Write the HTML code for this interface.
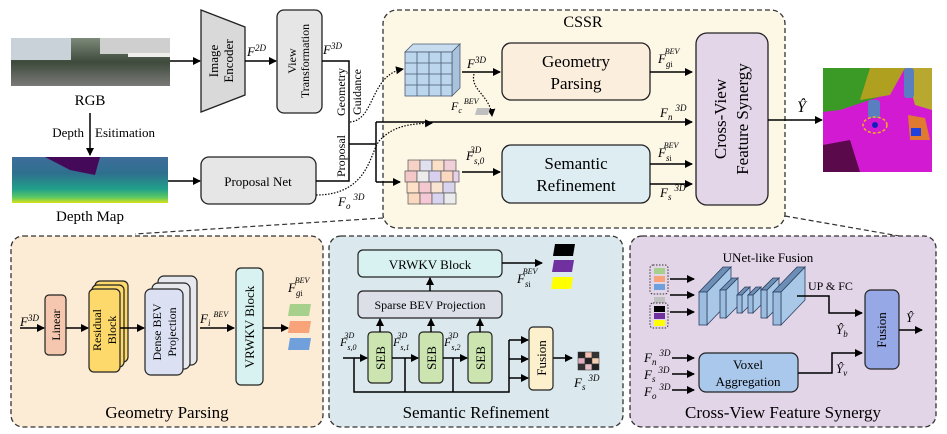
<!DOCTYPE html>
<html><head><meta charset="utf-8"><style>
html,body{margin:0;padding:0;background:#fff;}
svg{display:block;font-family:"Liberation Serif",serif;}
</style></head><body>
<svg width="947" height="434" viewBox="0 0 947 434" xmlns="http://www.w3.org/2000/svg">
<defs>
<marker id="a" markerWidth="8" markerHeight="8" refX="7" refY="4" orient="auto" markerUnits="userSpaceOnUse"><path d="M0,0 L8,4 L0,8 z" fill="#000"/></marker>
<linearGradient id="dm" x1="0" y1="0" x2="0" y2="1"><stop offset="0" stop-color="#3f6e9a"/><stop offset="0.35" stop-color="#2f6f8e"/><stop offset="0.7" stop-color="#21a08a"/><stop offset="0.88" stop-color="#5ec962"/><stop offset="1" stop-color="#d8e219"/></linearGradient>
<linearGradient id="rg" x1="0" y1="0" x2="0" y2="1"><stop offset="0" stop-color="#7d8a7a"/><stop offset="0.5" stop-color="#3e4a3c"/><stop offset="1" stop-color="#7a7a78"/></linearGradient>
</defs>

<rect x="383" y="10" width="402" height="218" rx="14" fill="#fdf7e6" stroke="#333" stroke-width="1.3" stroke-dasharray="5,3"/>
<text x="583" y="27" font-size="16" text-anchor="middle">CSSR</text>

<rect x="11" y="38" width="159" height="48" fill="url(#rg)"/>
<rect x="11" y="38" width="60" height="22" fill="#c9d2d8"/>
<rect x="100" y="38" width="70" height="16" fill="#cfcfcf"/>
<rect x="128" y="53" width="42" height="4" fill="#f0eeea"/>
<text x="90" y="105" font-size="15" text-anchor="middle">RGB</text>
<line x1="170" y1="61" x2="200" y2="61" stroke="#000" stroke-width="1.5" marker-end="url(#a)"/>

<line x1="90" y1="113" x2="90" y2="155" stroke="#000" stroke-width="1.5" marker-end="url(#a)"/>
<text x="84" y="137" font-size="13" text-anchor="end">Depth</text>
<text x="95" y="137" font-size="13">Esitimation</text>
<rect x="12" y="157" width="156" height="46" fill="url(#dm)"/>
<path d="M45,157 L100,157 L95,175 L70,170 Z" fill="#440a59"/>
<text x="90" y="221" font-size="15" text-anchor="middle">Depth Map</text>
<line x1="168" y1="181" x2="200" y2="181" stroke="#000" stroke-width="1.5" marker-end="url(#a)"/>

<path d="M201,10 L245,27 L245,95 L201,112 Z" fill="#d9d9d9" stroke="#222" stroke-width="1.3"/>
<text transform="translate(218,61) rotate(-90)" font-size="13" text-anchor="middle">Image</text>
<text transform="translate(233,61) rotate(-90)" font-size="13" text-anchor="middle">Encoder</text>
<text x="247" y="56" font-size="13" font-style="italic">F<tspan dy="-5" font-size="9">2D</tspan></text>
<line x1="245" y1="61" x2="276" y2="61" stroke="#000" stroke-width="1.5" marker-end="url(#a)"/>
<rect x="277" y="10" width="45" height="103" rx="7" fill="#e6e6e6" stroke="#222" stroke-width="1.3"/>
<text transform="translate(296,61) rotate(-90)" font-size="12" text-anchor="middle">View</text>
<text transform="translate(309,61) rotate(-90)" font-size="12" text-anchor="middle">Transformation</text>
<text x="323" y="54" font-size="13" font-style="italic">F<tspan dy="-5" font-size="9">3D</tspan></text>

<rect x="201" y="157" width="115" height="47" rx="8" fill="#e6e6e6" stroke="#222" stroke-width="1.3"/>
<text x="258" y="186" font-size="13" text-anchor="middle">Proposal Net</text>

<polyline points="322,61 349,61 349,181 316,181" fill="none" stroke="#000" stroke-width="1.5"/>
<line x1="349" y1="144" x2="376" y2="144" stroke="#000" stroke-width="1.5"/>
<line x1="376" y1="122" x2="376" y2="182" stroke="#000" stroke-width="1.5"/>
<line x1="376" y1="122" x2="692" y2="122" stroke="#000" stroke-width="1.5" marker-end="url(#a)"/>
<line x1="376" y1="182" x2="400" y2="182" stroke="#000" stroke-width="1.5" marker-end="url(#a)"/>
<text transform="translate(345,92) rotate(-90)" font-size="12" text-anchor="middle">Geometry</text>
<text transform="translate(361,92) rotate(-90)" font-size="12" text-anchor="middle">Guidance</text>
<text transform="translate(345,156) rotate(-90)" font-size="12" text-anchor="middle">Proposal</text>
<path d="M350,122 C375,120 370,75 403,69" fill="none" stroke="#000" stroke-width="1.2" stroke-dasharray="1.5,1.5" marker-end="url(#a)"/>
<path d="M316,195 C370,195 370,150 380,140 C395,125 410,124 432,123" fill="none" stroke="#000" stroke-width="1.2" stroke-dasharray="1.5,1.5" marker-end="url(#a)"/>
<text x="338" y="206" font-size="13" font-style="italic">F<tspan dy="3" font-size="9">o</tspan><tspan dy="-9" dx="3" font-size="9">3D</tspan></text>

<g stroke="#4a5a70" stroke-width="0.8">
<path d="M405,52 L413,44 L460,44 L452,52 Z" fill="#c7dcee"/>
<path d="M452,52 L460,44 L460,88 L452,96 Z" fill="#a9c3dc"/>
<rect x="405" y="52" width="47" height="44" fill="#bcd6ee"/>
<path d="M417,52V96M429,52V96M441,52V96M405,63H452M405,74H452M405,85H452" fill="none"/>
</g>
<text x="467" y="68" font-size="13" font-style="italic">F<tspan dy="-5" font-size="9">3D</tspan></text>
<line x1="462" y1="72" x2="500" y2="72" stroke="#000" stroke-width="1.5" marker-end="url(#a)"/>
<path d="M474,74 C470,90 490,95 492,116" fill="none" stroke="#000" stroke-width="1.2" stroke-dasharray="1.5,1.5" marker-end="url(#a)"/>
<text x="451" y="110" font-size="12" font-style="italic">F<tspan dy="3" font-size="8">c</tspan><tspan dy="-9" dx="2" font-size="8">BEV</tspan></text>
<path d="M477,108 L490,108 L488,115 L475,115 Z" fill="#bfbfbf"/>

<g stroke="#555" stroke-width="0.7">
<rect x="408" y="160" width="12" height="11" fill="#f6d2c6"/><rect x="420" y="160" width="12" height="11" fill="#e0e0f0"/><rect x="432" y="160" width="12" height="11" fill="#fbe0c8"/><rect x="444" y="160" width="12" height="11" fill="#f0d0d8"/>
<rect x="405" y="171" width="12" height="11" fill="#f4c8c8"/><rect x="417" y="171" width="12" height="11" fill="#ececec"/><rect x="429" y="171" width="12" height="11" fill="#d8d0ee"/><rect x="441" y="171" width="12" height="11" fill="#fcd8c0"/><rect x="453" y="171" width="6" height="11" fill="#e8d0e8"/>
<rect x="407" y="182" width="12" height="11" fill="#fde0c6"/><rect x="419" y="182" width="12" height="11" fill="#f4c8d0"/><rect x="431" y="182" width="12" height="11" fill="#f8e4d0"/><rect x="443" y="182" width="12" height="11" fill="#d8d4ee"/>
<rect x="408" y="193" width="12" height="11" fill="#fbd8c0"/><rect x="420" y="193" width="12" height="11" fill="#f4c8d4"/><rect x="432" y="193" width="12" height="11" fill="#d8d4f0"/><rect x="444" y="193" width="12" height="11" fill="#ebebeb"/>
</g>
<text x="466" y="160" font-size="13" font-style="italic">F<tspan dy="4" font-size="9">s,0</tspan><tspan dy="-11" dx="-14" font-size="9">3D</tspan></text>
<line x1="462" y1="172" x2="500" y2="172" stroke="#000" stroke-width="1.5" marker-end="url(#a)"/>

<rect x="502" y="43" width="148" height="57" rx="9" fill="#fbeedd" stroke="#222" stroke-width="1.3"/>
<text x="576" y="67" font-size="17" text-anchor="middle">Geometry</text>
<text x="576" y="89" font-size="17" text-anchor="middle">Parsing</text>
<rect x="502" y="145" width="148" height="58" rx="9" fill="#ddedf2" stroke="#222" stroke-width="1.3"/>
<text x="576" y="169" font-size="17" text-anchor="middle">Semantic</text>
<text x="576" y="191" font-size="17" text-anchor="middle">Refinement</text>
<text x="658" y="63" font-size="13" font-style="italic">F<tspan dy="4" font-size="9">g</tspan><tspan font-size="8" font-style="normal">i</tspan><tspan dy="-13" dx="-8" font-size="8">BEV</tspan></text>
<line x1="650" y1="72" x2="692" y2="72" stroke="#000" stroke-width="1.5" marker-end="url(#a)"/>
<text x="660" y="117" font-size="13" font-style="italic">F<tspan dy="3" font-size="9">n</tspan><tspan dy="-9" dx="3" font-size="9">3D</tspan></text>
<text x="658" y="157" font-size="13" font-style="italic">F<tspan dy="4" font-size="9">s</tspan><tspan font-size="8" font-style="normal">i</tspan><tspan dy="-13" dx="-8" font-size="8">BEV</tspan></text>
<line x1="650" y1="164" x2="692" y2="164" stroke="#000" stroke-width="1.5" marker-end="url(#a)"/>
<line x1="650" y1="184" x2="692" y2="184" stroke="#000" stroke-width="1.5" marker-end="url(#a)"/>
<text x="660" y="197" font-size="13" font-style="italic">F<tspan dy="3" font-size="9">s</tspan><tspan dy="-9" dx="3" font-size="9">3D</tspan></text>

<rect x="696" y="33" width="72" height="172" rx="11" fill="#e2d6e8" stroke="#222" stroke-width="1.3"/>
<text transform="translate(726,119) rotate(-90)" font-size="17" text-anchor="middle">Cross-View</text>
<text transform="translate(748,119) rotate(-90)" font-size="17" text-anchor="middle">Feature Synergy</text>
<line x1="768" y1="120" x2="822" y2="120" stroke="#000" stroke-width="1.5" marker-end="url(#a)"/>
<text x="797" y="112" font-size="16" font-style="italic">Ŷ</text>

<rect x="823" y="68" width="109" height="104" fill="#d21ad2"/>
<path d="M823,68 L900,68 L885,95 L840,110 L823,112 Z" fill="#3a9a25"/>
<path d="M870,68 L905,68 L890,95 L860,100 Z" fill="#b0a020"/>
<path d="M905,68 L932,68 L932,110 L915,105 Z" fill="#b8a830"/>
<path d="M823,145 L850,140 L860,172 L823,172 Z" fill="#5a0a4a"/>
<rect x="868" y="100" width="12" height="18" rx="3" fill="#5a7fc0"/>
<rect x="904" y="68" width="10" height="30" rx="3" fill="#5a7fc0"/>
<path d="M908,115 L925,118 L930,140 L910,140 Z" fill="#e07a30"/>
<rect x="911" y="128" width="10" height="8" fill="#2040e0"/>
<ellipse cx="875" cy="125" rx="12" ry="8" fill="none" stroke="#f0b020" stroke-width="1.5" stroke-dasharray="3,2"/>
<circle cx="875" cy="125" r="3" fill="#1020c0"/>

<line x1="383" y1="218" x2="135" y2="234" stroke="#333" stroke-width="1.2" stroke-dasharray="5,3"/>
<line x1="785" y1="216" x2="905" y2="237" stroke="#333" stroke-width="1.2" stroke-dasharray="5,3"/>

<rect x="11" y="236" width="312" height="191" rx="12" fill="#fcebd5" stroke="#333" stroke-width="1.3" stroke-dasharray="5,3"/>
<rect x="329" y="236" width="294" height="191" rx="12" fill="#dbe9ee" stroke="#333" stroke-width="1.3" stroke-dasharray="5,3"/>
<rect x="630" y="236" width="306" height="191" rx="12" fill="#e3d5e8" stroke="#333" stroke-width="1.3" stroke-dasharray="5,3"/>
<text x="167" y="418" font-size="17" text-anchor="middle">Geometry Parsing</text>
<text x="476" y="418" font-size="17" text-anchor="middle">Semantic Refinement</text>
<text x="783" y="418" font-size="17" text-anchor="middle">Cross-View Feature Synergy</text>

<text x="20" y="326" font-size="13" font-style="italic">F<tspan dy="-5" font-size="9">3D</tspan></text>
<line x1="20" y1="328" x2="44" y2="328" stroke="#000" stroke-width="1.5" marker-end="url(#a)"/>
<rect x="45" y="295" width="21" height="60" rx="4" fill="#f4c7ae" stroke="#222" stroke-width="1.2"/>
<text transform="translate(60,325) rotate(-90)" font-size="12" text-anchor="middle">Linear</text>
<line x1="66" y1="328" x2="88" y2="328" stroke="#000" stroke-width="1.5" marker-end="url(#a)"/>
<rect x="95" y="281" width="33" height="81" rx="5" fill="#fcd96a" stroke="#222" stroke-width="1.2"/>
<rect x="92" y="285" width="32" height="82" rx="5" fill="#fcd96a" stroke="#222" stroke-width="1.2"/>
<rect x="89" y="289" width="31" height="83" rx="5" fill="#fcd96a" stroke="#222" stroke-width="1.2"/>
<text transform="translate(101,330) rotate(-90)" font-size="12" text-anchor="middle">Residual</text>
<text transform="translate(116,330) rotate(-90)" font-size="12" text-anchor="middle">Block</text>
<line x1="120" y1="328" x2="144" y2="328" stroke="#000" stroke-width="1.5" marker-end="url(#a)"/>
<rect x="158" y="276" width="39" height="89" rx="6" fill="#e6e8ee" stroke="#222" stroke-width="1.2"/>
<rect x="152" y="283" width="38" height="86" rx="6" fill="#e6e8ee" stroke="#222" stroke-width="1.2"/>
<rect x="145" y="289" width="38" height="86" rx="6" fill="#dbe0f3" stroke="#222" stroke-width="1.2"/>
<text transform="translate(161,332) rotate(-90)" font-size="12" text-anchor="middle">Dense BEV</text>
<text transform="translate(176,332) rotate(-90)" font-size="12" text-anchor="middle">Projection</text>
<text x="200" y="323" font-size="13" font-style="italic">F<tspan dy="3" font-size="9">i</tspan><tspan dy="-9" dx="3" font-size="8">BEV</tspan></text>
<line x1="200" y1="328" x2="234" y2="328" stroke="#000" stroke-width="1.5" marker-end="url(#a)"/>
<rect x="236" y="268" width="27" height="117" rx="5" fill="#d7f2f0" stroke="#222" stroke-width="1.2"/>
<text transform="translate(254,327) rotate(-90)" font-size="13" text-anchor="middle">VRWKV Block</text>
<line x1="263" y1="328" x2="288" y2="328" stroke="#000" stroke-width="1.5" marker-end="url(#a)"/>
<text x="288" y="292" font-size="13" font-style="italic">F<tspan dy="4" font-size="9">g</tspan><tspan font-size="8" font-style="normal">i</tspan><tspan dy="-13" dx="-8" font-size="8">BEV</tspan></text>
<path d="M290,304 L311,304 L309,316 L288,316 Z" fill="#a8d08d"/>
<path d="M290,321 L311,321 L309,333 L288,333 Z" fill="#f8a37a"/>
<path d="M290,338 L311,338 L309,350 L288,350 Z" fill="#6fa0dc"/>

<rect x="358" y="250" width="144" height="27" rx="5" fill="#d7f2f0" stroke="#222" stroke-width="1.2"/>
<text x="430" y="269" font-size="13" text-anchor="middle">VRWKV Block</text>
<rect x="358" y="291" width="144" height="27" rx="5" fill="#dcdfe8" stroke="#222" stroke-width="1.2"/>
<text x="430" y="309" font-size="12" text-anchor="middle">Sparse BEV Projection</text>
<line x1="430" y1="291" x2="430" y2="278" stroke="#000" stroke-width="1.5" marker-end="url(#a)"/>
<line x1="502" y1="263" x2="542" y2="263" stroke="#000" stroke-width="1.5" marker-end="url(#a)"/>
<path d="M555,244 L575,244 L573,256 L553,256 Z" fill="#000"/>
<path d="M554,260 L574,260 L572,272 L552,272 Z" fill="#7030a0"/>
<path d="M553,277 L573,277 L571,289 L551,289 Z" fill="#ffff00"/>
<text x="517" y="283" font-size="13" font-style="italic">F<tspan dy="4" font-size="9">s</tspan><tspan font-size="8" font-style="normal">i</tspan><tspan dy="-13" dx="-8" font-size="8">BEV</tspan></text>
<g fill="#cce5b0" stroke="#222" stroke-width="1.2">
<rect x="368" y="332" width="24" height="51" rx="4"/><rect x="419" y="332" width="24" height="51" rx="4"/><rect x="468" y="332" width="24" height="51" rx="4"/>
</g>
<text transform="translate(385,358) rotate(-90)" font-size="13" text-anchor="middle">SEB</text>
<text transform="translate(436,358) rotate(-90)" font-size="13" text-anchor="middle">SEB</text>
<text transform="translate(485,358) rotate(-90)" font-size="13" text-anchor="middle">SEB</text>
<g stroke="#000" stroke-width="1.5" fill="none">
<line x1="380" y1="332" x2="380" y2="319" marker-end="url(#a)"/>
<line x1="431" y1="332" x2="431" y2="319" marker-end="url(#a)"/>
<line x1="480" y1="332" x2="480" y2="319" marker-end="url(#a)"/>
<line x1="343" y1="358" x2="367" y2="358" marker-end="url(#a)"/>
<line x1="392" y1="358" x2="418" y2="358" marker-end="url(#a)"/>
<line x1="443" y1="358" x2="467" y2="358" marker-end="url(#a)"/>
<polyline points="354,358 354,392 509,392 509,340"/>
<line x1="405" y1="358" x2="405" y2="392"/>
<line x1="453" y1="358" x2="453" y2="392"/>
<line x1="509" y1="340" x2="528" y2="340" marker-end="url(#a)"/>
<line x1="509" y1="359" x2="528" y2="359" marker-end="url(#a)"/>
<line x1="509" y1="378" x2="528" y2="378" marker-end="url(#a)"/>
<line x1="553" y1="358" x2="572" y2="358" marker-end="url(#a)"/>
</g>
<text x="340" y="346" font-size="12" font-style="italic">F<tspan dy="4" font-size="8">s,0</tspan><tspan dy="-12" dx="-12" font-size="8">3D</tspan></text>
<text x="393" y="346" font-size="12" font-style="italic">F<tspan dy="4" font-size="8">s,1</tspan><tspan dy="-12" dx="-12" font-size="8">3D</tspan></text>
<text x="444" y="346" font-size="12" font-style="italic">F<tspan dy="4" font-size="8">s,2</tspan><tspan dy="-12" dx="-12" font-size="8">3D</tspan></text>
<rect x="529" y="327" width="24" height="63" rx="4" fill="#fdf0cc" stroke="#222" stroke-width="1.2"/>
<text transform="translate(546,358) rotate(-90)" font-size="13" text-anchor="middle">Fusion</text>
<g stroke="#333" stroke-width="0.5">
<rect x="578" y="352" width="7" height="6" fill="#222"/><rect x="585" y="352" width="7" height="6" fill="#f0c0b0"/><rect x="592" y="352" width="7" height="6" fill="#333"/>
<rect x="578" y="358" width="7" height="6" fill="#e0b0c0"/><rect x="585" y="358" width="7" height="6" fill="#222"/><rect x="592" y="358" width="7" height="6" fill="#f4d0b0"/>
<rect x="578" y="364" width="7" height="6" fill="#333"/><rect x="585" y="364" width="7" height="6" fill="#e8c0c8"/><rect x="592" y="364" width="7" height="6" fill="#222"/>
</g>
<text x="574" y="387" font-size="13" font-style="italic">F<tspan dy="3" font-size="9">s</tspan><tspan dy="-9" dx="3" font-size="9">3D</tspan></text>

<rect x="650" y="265" width="18" height="29" rx="3" fill="none" stroke="#333" stroke-dasharray="1.5,1.5"/>
<rect x="654" y="268" width="11" height="6" fill="#a8d08d"/><rect x="654" y="276" width="11" height="6" fill="#f8a37a"/><rect x="654" y="284" width="11" height="6" fill="#6fa0dc"/>
<rect x="654" y="297" width="11" height="6" fill="#bfbfbf"/>
<rect x="650" y="303" width="18" height="25" rx="3" fill="none" stroke="#333" stroke-dasharray="1.5,1.5"/>
<rect x="654" y="306" width="11" height="6" fill="#000"/><rect x="654" y="313" width="11" height="6" fill="#7030a0"/><rect x="654" y="320" width="11" height="6" fill="#ffff00"/>
<g stroke="#000" stroke-width="1.5" fill="none">
<line x1="670" y1="279" x2="694" y2="279" marker-end="url(#a)"/>
<line x1="670" y1="295" x2="694" y2="295" marker-end="url(#a)"/>
<line x1="670" y1="312" x2="694" y2="312" marker-end="url(#a)"/>
</g>
<text x="768" y="262" font-size="13" text-anchor="middle">UNet-like Fusion</text>
<g stroke="#2a4060" stroke-width="0.8">
<path d="M707,292 L731,267 L731,300 L707,325 Z" fill="#a9c8e8"/><path d="M699,292 L723,267 L731,267 L707,292 Z" fill="#6e8fb5"/><rect x="699" y="292" width="8" height="33" fill="#9cbce0"/>
<path d="M726,290 L738,278 L738,306 L726,318 Z" fill="#a9c8e8"/><path d="M720,290 L732,278 L738,278 L726,290 Z" fill="#6e8fb5"/><rect x="720" y="290" width="6" height="28" fill="#9cbce0"/>
<path d="M742,295 L750,287 L750,305 L742,313 Z" fill="#a9c8e8"/><path d="M737,295 L745,287 L750,287 L742,295 Z" fill="#6e8fb5"/><rect x="737" y="295" width="5" height="18" fill="#9cbce0"/>
<path d="M753,295 L761,287 L761,305 L753,313 Z" fill="#a9c8e8"/><path d="M748,295 L756,287 L761,287 L753,295 Z" fill="#6e8fb5"/><rect x="748" y="295" width="5" height="18" fill="#9cbce0"/>
<path d="M767,290 L779,278 L779,306 L767,318 Z" fill="#a9c8e8"/><path d="M761,290 L773,278 L779,278 L767,290 Z" fill="#6e8fb5"/><rect x="761" y="290" width="6" height="28" fill="#9cbce0"/>
<path d="M781,292 L805,267 L805,300 L781,325 Z" fill="#a9c8e8"/><path d="M773,292 L797,267 L805,267 L781,292 Z" fill="#6e8fb5"/><rect x="773" y="292" width="8" height="33" fill="#9cbce0"/>
</g>
<text x="808" y="290" font-size="12">UP &amp; FC</text>
<polyline points="797,296 829,296 829,313 862,313" fill="none" stroke="#000" stroke-width="1.5" marker-end="url(#a)"/>
<text x="836" y="334" font-size="13" font-style="italic">Ŷ<tspan dy="3" font-size="9">b</tspan></text>
<rect x="865" y="290" width="34" height="79" rx="6" fill="#96a8e6" stroke="#222" stroke-width="1.2"/>
<text transform="translate(886,330) rotate(-90)" font-size="13" text-anchor="middle">Fusion</text>
<line x1="899" y1="330" x2="922" y2="330" stroke="#000" stroke-width="1.5" marker-end="url(#a)"/>
<text x="906" y="322" font-size="13" font-style="italic">Ŷ</text>
<text x="644" y="362" font-size="13" font-style="italic">F<tspan dy="3" font-size="9">n</tspan><tspan dy="-9" dx="3" font-size="9">3D</tspan></text>
<text x="644" y="379" font-size="13" font-style="italic">F<tspan dy="3" font-size="9">s</tspan><tspan dy="-9" dx="3" font-size="9">3D</tspan></text>
<text x="644" y="396" font-size="13" font-style="italic">F<tspan dy="3" font-size="9">o</tspan><tspan dy="-9" dx="3" font-size="9">3D</tspan></text>
<g stroke="#000" stroke-width="1.5">
<line x1="672" y1="358" x2="694" y2="358" marker-end="url(#a)"/>
<line x1="672" y1="374" x2="694" y2="374" marker-end="url(#a)"/>
<line x1="672" y1="390" x2="694" y2="390" marker-end="url(#a)"/>
</g>
<rect x="699" y="353" width="99" height="39" rx="7" fill="#a9c8ec" stroke="#222" stroke-width="1.2"/>
<text x="748" y="369" font-size="13" text-anchor="middle">Voxel</text>
<text x="748" y="386" font-size="13" text-anchor="middle">Aggregation</text>
<polyline points="798,373 832,373 832,353 862,353" fill="none" stroke="#000" stroke-width="1.5" marker-end="url(#a)"/>
<text x="836" y="373" font-size="13" font-style="italic">Ŷ<tspan dy="3" font-size="9">v</tspan></text>
</svg>
</body></html>
